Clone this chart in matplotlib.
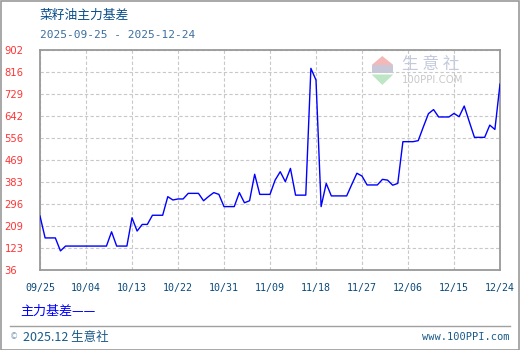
import numpy as np
import matplotlib
matplotlib.use('Agg')
import matplotlib.pyplot as plt
from matplotlib.patches import Polygon, Rectangle
from matplotlib.lines import Line2D

# daily basis values 2025-09-25 .. 2025-12-24 (calendar days)
basis = [248, 162, 162, 162, 111, 130, 130, 130, 130, 130,
         130, 130, 130, 130, 186, 130, 130, 130, 241, 189,
         215, 215, 251, 251, 251, 324, 311, 315, 315, 337,
         337, 337, 308, 325, 340, 333, 285, 285, 285, 340,
         300, 308, 412, 333, 333, 333, 389, 422, 383, 435,
         330, 330, 330, 828, 782, 285, 376, 327, 327, 327,
         327, 372, 416, 405, 370, 370, 370, 392, 389, 369,
         376, 540, 540, 540, 544, 598, 650, 666, 637, 637,
         637, 651, 638, 680, 618, 557, 557, 557, 605, 588,
         766]
x_labels = ['09/25', '10/04', '10/13', '10/22', '10/31', '11/09',
            '11/18', '11/27', '12/06', '12/15', '12/24']
y_labels = ['36', '123', '209', '296', '383', '469', '556', '642', '729', '816', '902']

title = '菜籽油主力基差'
date_range = '2025-09-25 - 2025-12-24'
series_name = '主力基差'

cjk = ['Noto Sans CJK SC', 'DejaVu Sans']
mono = ['DejaVu Sans Mono']

fig = plt.figure(figsize=(5.2, 3.5), dpi=100)
W, H = 520, 350

def fx(px):
    return px / W

def fy(py):
    return 1 - py / H

ax = fig.add_axes([fx(40), fy(270), 460 / W, 220.5 / H])
days = np.arange(len(basis))
ax.plot(days, basis, color='#0000ff', lw=1.0, zorder=3)

ax.set_xlim(0, len(basis) - 1)
ax.set_ylim(36, 902)
ax.set_xticks(np.arange(0, len(basis), 9))
ax.set_xticklabels(x_labels, family=mono, fontsize=7.2, color='#0a4a7a')
ax.set_yticks(np.linspace(36, 902, len(y_labels)))
ax.set_yticklabels(y_labels, family=['DejaVu Sans'], fontsize=7.2, color='#ff3333')
for lab in ax.get_yticklabels():
    lab.set_ha('left')
ax.tick_params(axis='y', length=0, pad=25.5)
ax.tick_params(axis='x', length=0, pad=9.5)
ax.grid(True, color='#c8c8c8', ls=(0, (3, 2)), lw=0.8)
for s in ax.spines.values():
    s.set_color('#999999')
    s.set_linewidth(1.3)

# titles
fig.text(fx(40), fy(15), title, family=cjk, fontsize=9.2, color='#0b4f8a', va='center')
fig.text(fx(40), fy(35), date_range, family=mono, fontsize=8, color='#3d6e9e', va='center')

# legend
fig.text(fx(20), fy(311), series_name + '——', family=cjk, fontsize=9.4, color='#0000ff', va='center')

# footer
fig.add_artist(Line2D([fx(10), fx(510)], [fy(326), fy(326)], color='#a0a0a0', lw=1.0))
fig.text(fx(10), fy(337), '©', family=['DejaVu Sans'], fontsize=6, color='#7a9ab8', va='center')
fig.text(fx(23), fy(337), '2025.12 生意社', family=cjk, fontsize=9, color='#1a5a8a', va='center')
fig.text(fx(510), fy(337), 'www.100PPI.com', family=mono, fontsize=7.5, color='#1a5a8a',
         va='center', ha='right')

# watermark
fig.add_artist(Polygon([[fx(371.7), fy(65)], [fx(393.3), fy(65)], [fx(382.3), fy(56)]],
                       closed=True, color='#f4b8b8', lw=0))
fig.add_artist(Rectangle((fx(372), fy(73)), fx(21), 8 / H, color='#c8c8d8', lw=0))
fig.add_artist(Polygon([[fx(371.7), fy(74.5)], [fx(393.3), fy(74.5)], [fx(382.3), fy(85)]],
                       closed=True, color='#bfe6c4', lw=0))
fig.text(fx(402), fy(65), '生 意 社', family=cjk, fontsize=12, color='#c4cadc', va='center')
fig.text(fx(402), fy(80), '100PPI.COM', family=['DejaVu Sans'], fontsize=7.3, color='#c8c8c8',
         va='center')

# outer border
fig.add_artist(Rectangle((0.5 / W, 0.5 / H), 518.5 / W, 348.5 / H, fill=False,
                         ec='#999999', lw=1.2))

fig.savefig('out.png', dpi=100)
